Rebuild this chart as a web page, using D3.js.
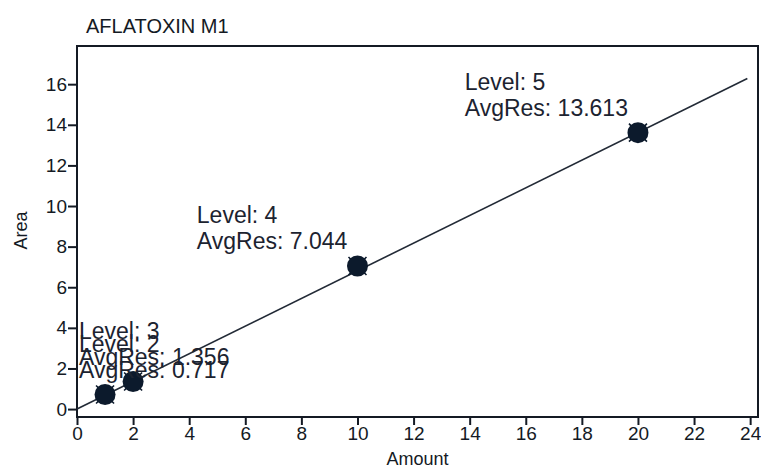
<!DOCTYPE html>
<html lang="en">
<head>
<meta charset="UTF-8">
<title>AFLATOXIN M1</title>
<style>
  body { margin: 0; background: #fff; }
  svg { display: block; font-family: "Liberation Sans", Arial, sans-serif; }
</style>
</head>
<body>
<svg width="761" height="468"></svg>
<script src="https://d3js.org/d3.v7.min.js"></script>
<script>
// calibration data
const levels = [2, 3, 4, 5];
const amounts = [1, 2, 10, 20];
const avgRes = [0.717, 1.356, 7.044, 13.613];
const xTicks = [0, 2, 4, 6, 8, 10, 12, 14, 16, 18, 20, 22, 24];
const yTicks = [0, 2, 4, 6, 8, 10, 12, 14, 16];
const fitRange = [0, 23.9];
const fitSlope = 0.681;
const fitIntercept = 0;

const svg = d3.select("svg");
const W = +svg.attr("width"), H = +svg.attr("height");
const margin = {top: 46, right: 3, bottom: 51, left: 77};
const inkCol = "#141a24";

const x = d3.scaleLinear().domain([0, 24.28]).range([margin.left, W - margin.right]);
const y = d3.scaleLinear().domain([-0.39, 17.88]).range([H - margin.bottom, margin.top]);

// frame
svg.append("rect")
    .attr("x", margin.left).attr("y", margin.top)
    .attr("width", W - margin.left - margin.right)
    .attr("height", H - margin.top - margin.bottom)
    .attr("fill", "none").attr("stroke", inkCol).attr("stroke-width", 2);

const xAxis = svg.append("g")
    .attr("transform", "translate(0," + (H - margin.bottom) + ")")
    .call(d3.axisBottom(x).tickValues(xTicks).tickSize(8).tickPadding(2).tickSizeOuter(0));
const yAxis = svg.append("g")
    .attr("transform", "translate(" + margin.left + ",0)")
    .call(d3.axisLeft(y).tickValues(yTicks).tickSize(9).tickPadding(1).tickSizeOuter(0));

[xAxis, yAxis].forEach(a => {
    a.select(".domain").remove();
    a.selectAll("line").attr("stroke", inkCol).attr("stroke-width", 2);
    a.selectAll("text").attr("fill", inkCol).style("font-size", "19px")
        .style("font-family", "'Liberation Sans', Arial, sans-serif");
});

// titles
svg.append("text").attr("x", 86).attr("y", 33)
    .attr("fill", inkCol).style("font-size", "20px").text("AFLATOXIN M1");
svg.append("text")
    .attr("transform", "translate(27," + ((margin.top + H - margin.bottom) / 2 - 1) + ") rotate(-90)")
    .attr("text-anchor", "middle").attr("fill", inkCol).style("font-size", "18px").text("Area");
svg.append("text")
    .attr("x", (margin.left + W - margin.right) / 2).attr("y", 465)
    .attr("text-anchor", "middle").attr("fill", inkCol).style("font-size", "18px").text("Amount");

// fit line
svg.append("line")
    .attr("x1", x(fitRange[0])).attr("y1", y(fitIntercept + fitSlope * fitRange[0]))
    .attr("x2", x(fitRange[1])).attr("y2", y(fitIntercept + fitSlope * fitRange[1]))
    .attr("stroke", "#222a36").attr("stroke-width", 1.6);

const pts = levels.map((l, i) => ({level: l, amount: amounts[i], res: avgRes[i]}));

// points: filled circle with x marker
const g = svg.selectAll("g.pt").data(pts).enter().append("g")
    .attr("class", "pt")
    .attr("transform", d => "translate(" + x(d.amount) + "," + y(d.res) + ")");
g.append("path").attr("d", "M-9,-9L9,9M-9,9L9,-9")
    .attr("stroke", "#0c1a2c").attr("stroke-width", 1.6);
g.append("circle").attr("r", 10.5).attr("fill", "#0c1a2c");

// labels, right end just left of the point, kept inside the plot
pts.forEach(d => {
    const t = svg.append("text").attr("fill", "#1c2330").style("font-size", "23px");
    t.append("tspan").attr("x", 0).attr("dy", 0).text("Level: " + d.level);
    t.append("tspan").attr("x", 0).attr("dy", 26).text("AvgRes: " + d.res.toFixed(3));
    const w = t.node().getBBox().width;
    const lx = Math.max(x(d.amount) - 10 - w, margin.left + 2);
    t.attr("y", y(d.res) - 43);
    t.selectAll("tspan").attr("x", lx);
});
</script>
</body>
</html>
